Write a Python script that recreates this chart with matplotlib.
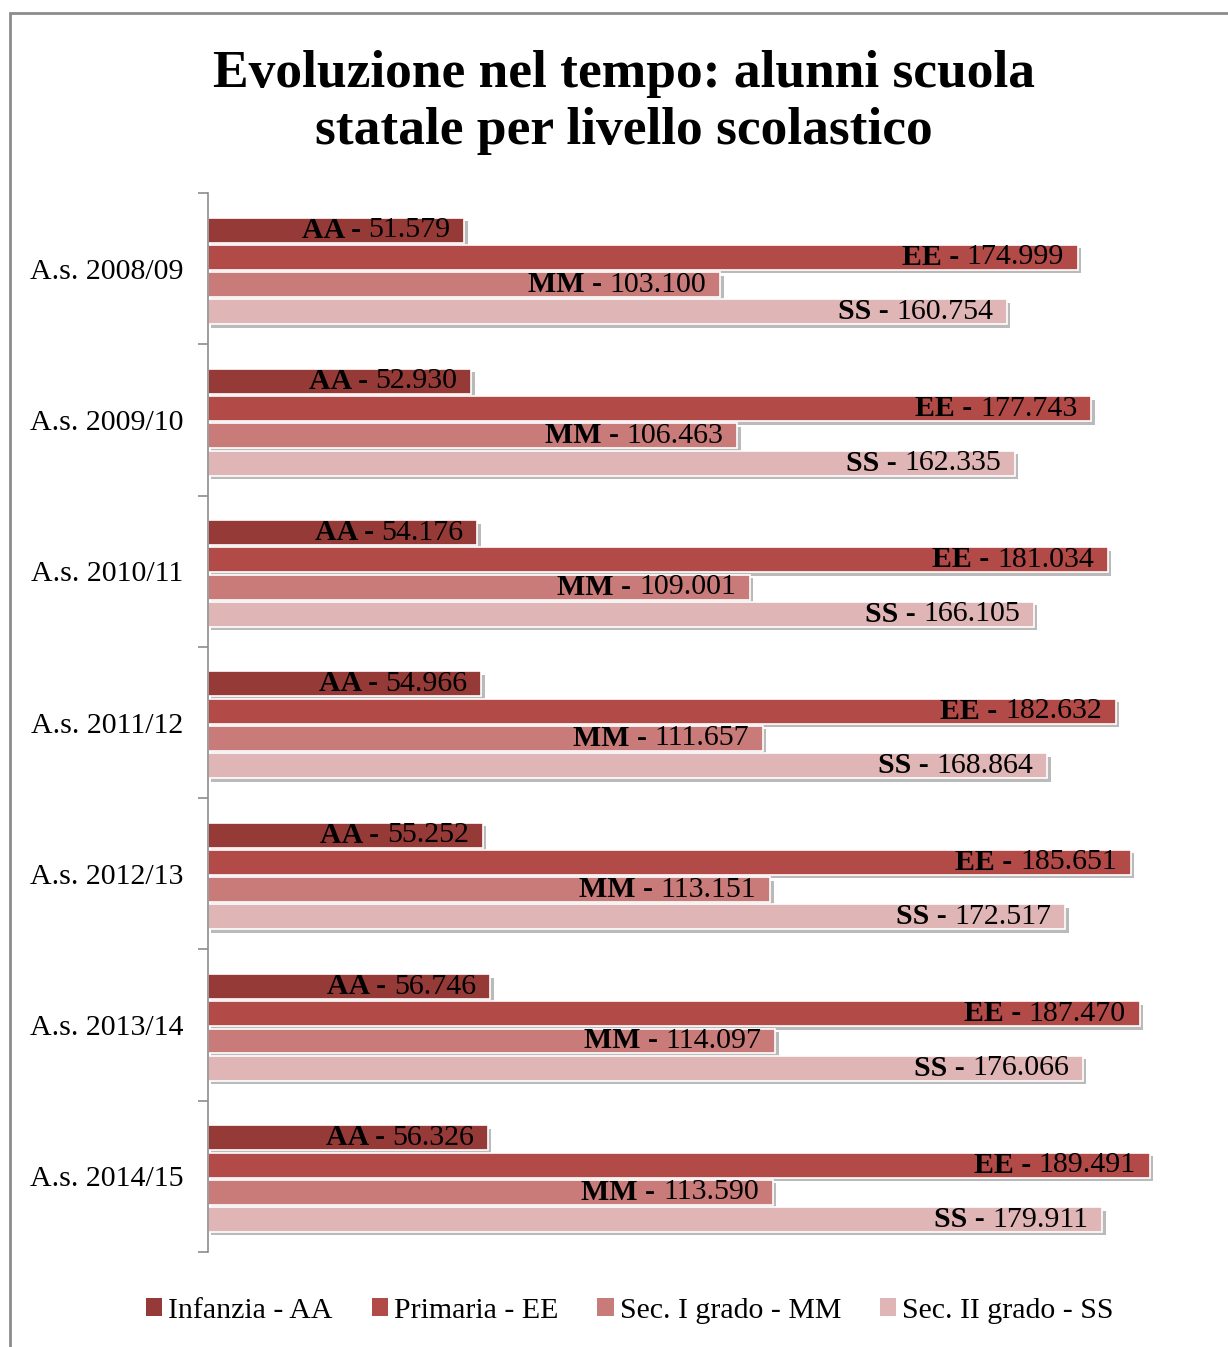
import matplotlib
matplotlib.use("Agg")
import matplotlib.pyplot as plt
import matplotlib.patheffects as pe
from matplotlib.patches import Patch, Rectangle
import numpy as np

plt.rcParams['font.family'] = ['Liberation Serif', 'DejaVu Serif']

anni = ["A.s. 2008/09", "A.s. 2009/10", "A.s. 2010/11", "A.s. 2011/12",
        "A.s. 2012/13", "A.s. 2013/14", "A.s. 2014/15"]
sigle = ["AA", "EE", "MM", "SS"]
legenda = ["Infanzia - AA", "Primaria - EE", "Sec. I grado - MM", "Sec. II grado - SS"]
infanzia = [51579, 52930, 54176, 54966, 55252, 56746, 56326]
primaria = [174999, 177743, 181034, 182632, 185651, 187470, 189491]
sec_primo = [103100, 106463, 109001, 111657, 113151, 114097, 113590]
sec_secondo = [160754, 162335, 166105, 168864, 172517, 176066, 179911]
colori = ["#963a38", "#b24a48", "#c97b7a", "#e0b5b6"]

serie = [infanzia, primaria, sec_primo, sec_secondo]

fig = plt.figure(figsize=(12.28, 13.47), dpi=100)
ax = fig.add_axes([0.1694, 0.0705, 0.8094, 0.7862])

# cornice del grafico
fig.patches.append(Rectangle((10/1228, -0.02), 1.1, 1 - 13/1347 + 0.02,
                             transform=fig.transFigure, fill=False,
                             edgecolor="#8c8c8c", linewidth=2))

y = np.arange(len(anni))
h = 0.165
step = 0.18
ombra = [pe.SimplePatchShadow(offset=(2.5, -2.5), shadow_rgbFace="#777777", alpha=0.5), pe.Normal()]

for k, (vals, sig, col) in enumerate(zip(serie, sigle, colori)):
    pos = y + (k - 1.5) * step + 0.015
    bars = ax.barh(pos, vals, height=h, color=col, edgecolor="white", linewidth=1.2)
    for b in bars:
        b.set_path_effects(ombra)
    for p, v in zip(pos, vals):
        num = f"{v:,}".replace(",", ".")
        t = ax.annotate(num, xy=(v, p), xytext=(-10, 0), textcoords="offset points",
                        ha="right", va="center", fontsize=21.5)
        ax.annotate(sig + " - ", xy=(0, 0.5), xycoords=t, ha="right", va="center",
                    fontsize=21.5, fontweight="bold")

ax.set_xlim(0, 200000)
ax.set_ylim(len(anni) - 0.5, -0.5)
ax.set_xticks([])
ax.set_yticks(y)
ax.set_yticklabels(anni, fontsize=21.5)
ax.set_yticks(np.arange(len(anni) + 1) - 0.5, minor=True)
ax.tick_params(axis="y", which="major", length=0, pad=18)
ax.tick_params(axis="y", which="minor", length=7, color="#8c8c8c", width=1.2)
for s in ["top", "right", "bottom"]:
    ax.spines[s].set_visible(False)
ax.spines["left"].set_color("#8c8c8c")
ax.spines["left"].set_linewidth(1.2)

fig.text(0.508, 0.924, "Evoluzione nel tempo: alunni scuola\nstatale per livello scolastico",
         ha="center", va="center", fontsize=38.5, fontweight="bold", linespacing=1.24)

handles = [Patch(facecolor=c, edgecolor="none") for c in colori]
fig.legend(handles, legenda, loc="center", bbox_to_anchor=(0.513, 0.027), ncol=4,
           frameon=False, fontsize=21.5, handlelength=0.55, handleheight=0.55,
           handletextpad=0.2, columnspacing=1.3)

fig.savefig("out.png", dpi=100)
